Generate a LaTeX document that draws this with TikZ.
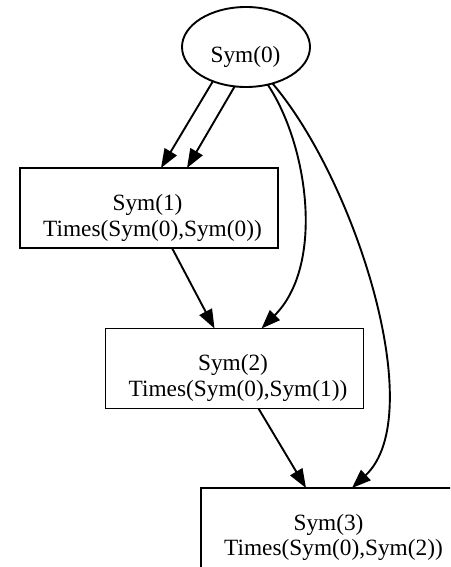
\documentclass[tikz,border=0pt]{standalone}
\usepackage{fontspec}
\setmainfont{Liberation Serif}
\usetikzlibrary{arrows.meta,calc,shapes.geometric}
\begin{document}
\begin{tikzpicture}[x=1pt,y=-1pt,
  every node/.style={inner sep=0pt,outer sep=0pt},
  ovalbox/.style={draw,line width=1.9pt,ellipse,minimum width=128pt,minimum height=80pt},
  symbox/.style={draw,line width=1.9pt,rectangle,minimum width=258pt,minimum height=80pt},
  lbl/.style={anchor=base,font=\fontsize{23.3}{28}\selectfont},
  edge/.style={line width=1.9pt,-{Triangle[length=19pt,width=14pt]}}]
\useasboundingbox (0,0) rectangle (450,567);
\clip (0,0) rectangle (450,567);
\node[ovalbox] (s0) at (246,47) {};
\node[symbox] (s1) at (149,208) {};
\node[symbox] (s2) at (234.5,368.5) {};
\node[symbox] (s3) at (330,528) {};
\node[lbl] (t0) at (245.5,63) {Sym(0)};
\node[lbl] (t1a) at (147.5,210.5) {Sym(1)};
\node[lbl] (t1b) at (152.5,236) {Times(Sym(0),Sym(0))};
\node[lbl] (t2a) at (233,370.5) {Sym(2)};
\node[lbl] (t2b) at (238,396) {Times(Sym(0),Sym(1))};
\node[lbl] (t3a) at (328.5,530) {Sym(3)};
\node[lbl] (t3b) at (333.5,555.5) {Times(Sym(0),Sym(2))};
\draw[edge] (s0.226) -- ($(s1.north west)+(141,0)$);
\draw[edge] (s0.254) -- ($(s1.north west)+(167,0)$);
\draw[edge] (s0.300) .. controls (308,145) and (325,265) .. ($(s2.north west)+(156,0)$);
\draw[edge] (s0.306) .. controls (355,180) and (430,415) .. ($(s3.north west)+(151,0)$);
\draw[edge] ($(s1.south west)+(152,0)$) -- ($(s2.north west)+(109,0)$);
\draw[edge] ($(s2.south west)+(153,0)$) -- ($(s3.north west)+(105,0)$);
\end{tikzpicture}
\end{document}
